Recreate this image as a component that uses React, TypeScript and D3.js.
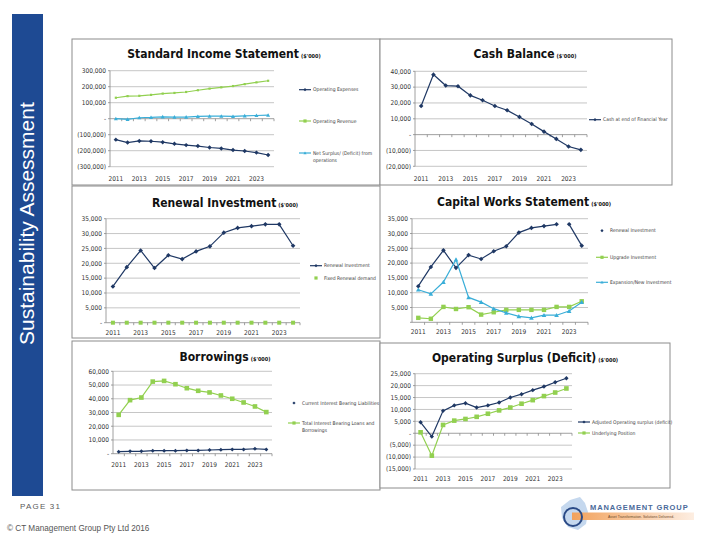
import React from 'react';
import * as d3 from 'd3';

// categories
const years = [2011, 2012, 2013, 2014, 2015, 2016, 2017, 2018, 2019, 2020, 2021, 2022, 2023, 2024];
const yearLabels = [2011, 2013, 2015, 2017, 2019, 2021, 2023];

// Standard Income Statement ($'000)
const incomeTicks = [-300000, -200000, -100000, 0, 100000, 200000, 300000];
const operatingExpenses = [-131000, -149000, -139000, -141000, -147000, -157000, -165000, -171000, -180000, -186000, -196000, -202000, -212000, -227000];
const operatingRevenue = [131000, 141000, 143000, 149000, 157000, 161000, 167000, 178000, 188000, 196000, 204000, 216000, 227000, 237000];
const netSurplus = [0, -4000, 6000, 8000, 12000, 10000, 10000, 14000, 16000, 16000, 14000, 18000, 20000, 22000];

// Cash Balance
const cashTicks = [-20000, -10000, 0, 10000, 20000, 30000, 40000];
const cashBalance = [18100, 37900, 31000, 30600, 24800, 21700, 18100, 15400, 11200, 6700, 1900, -2700, -7500, -9600];

// Renewal Investment
const renewalTicks = [0, 5000, 10000, 15000, 20000, 25000, 30000, 35000];
const renewalInvestment = [12200, 18700, 24300, 18400, 22700, 21400, 24000, 25700, 30300, 31900, 32500, 33100, 33100, 25900];
const fixedRenewalDemand = [0, 0, 0, 0, 0, 0, 0, 0, 0, 0, 0, 0, 0, 0];

// Capital Works Statement
const upgradeInvestment = [1500, 1200, 5200, 4500, 5100, 2600, 3400, 4200, 4200, 4200, 4200, 5200, 5200, 7100];
const expansionInvestment = [11000, 9600, 13600, 21200, 8400, 6800, 4600, 3200, 2000, 1500, 2400, 2400, 3800, 6800];

// Borrowings
const borrowTicks = [0, 10000, 20000, 30000, 40000, 50000, 60000];
const currentLiabilities = [1500, 1700, 1700, 2200, 2200, 2200, 2400, 2400, 2700, 2900, 3100, 3100, 3600, 3100];
const totalBorrowings = [28300, 39000, 40900, 52500, 53000, 50600, 47700, 45800, 44600, 42400, 40000, 37300, 34400, 30300];

// Operating Surplus (Deficit)
const surplusTicks = [-15000, -10000, -5000, 0, 5000, 10000, 15000, 20000, 25000];
const adjustedSurplus = [4600, -1400, 9400, 11700, 12600, 10800, 11700, 12900, 15000, 16400, 18100, 19600, 21400, 23100];
const underlyingPosition = [400, -9400, 3500, 5300, 6000, 6900, 8200, 9600, 10800, 12400, 13900, 15600, 17100, 18800];

const NAVY = '#1f3864';
const GREEN = '#92d050';
const CYAN = '#3aaed8';
const FONT = "'Liberation Sans Narrow', 'DejaVu Sans Condensed', 'Roboto', sans-serif";

type Marker = 'diamond' | 'square' | 'triangle';

interface Series {
  values: number[];
  color: string;
  marker: Marker;
  size: number;
  line: boolean;
  gapAfter?: number;
}

interface LegendItem {
  text: string[];
  color: string;
  marker: Marker;
  line: boolean;
  y: number;
}

interface Spec {
  frame?: [number, number, number, number];
  title: string;
  titleX: number;
  titleY: number;
  left: number;
  right: number;
  top: number;
  bottom: number;
  ticks: number[];
  labelY: number;
  hideZero?: boolean;
  series: Series[];
  legendX: number;
  legend: LegendItem[];
}

const fmt = (v: number) => (v === 0 ? '-' : v < 0 ? `(${d3.format(',')(-v)})` : d3.format(',')(v));

const markerShape = (m: Marker, x: number, y: number, s: number, color: string, key?: string) => {
  if (m === 'diamond')
    return <path key={key} d={`M${x},${y - s}L${x + s},${y}L${x},${y + s}L${x - s},${y}Z`} fill={color} />;
  if (m === 'square')
    return <rect key={key} x={x - s} y={y - s} width={s * 2} height={s * 2} fill={color} />;
  return <path key={key} d={`M${x},${y - s}L${x + s},${y + s * 0.8}L${x - s},${y + s * 0.8}Z`} fill={color} />;
};

const Chart = ({ spec }: { spec: Spec }) => {
  const x = d3.scaleBand<number>().domain(years).range([spec.left, spec.right]).padding(0);
  const y = d3.scaleLinear().domain([spec.ticks[0], spec.ticks[spec.ticks.length - 1]]).range([spec.bottom, spec.top]);
  const cx = (i: number) => (x(years[i]) ?? 0) + x.bandwidth() / 2;
  const axisY = spec.ticks[0] < 0 ? y(0) : spec.bottom;
  const line = d3.line<[number, number]>().x(d => cx(d[0])).y(d => y(d[1]));

  return (
    <g fontFamily={FONT}>
      {spec.frame && (
        <rect x={spec.frame[0]} y={spec.frame[1]} width={spec.frame[2]} height={spec.frame[3]} fill="white" stroke="#8c8c8c" strokeWidth={1} />
      )}
      <text x={spec.titleX} y={spec.titleY} textAnchor="middle" fill="#111">
        <tspan fontSize={12} fontWeight="bold">{spec.title}</tspan>
        <tspan fontSize={5.5} fontWeight="bold" dx={2}>($'000)</tspan>
      </text>
      {spec.ticks.map(t => (
        <g key={t}>
          {t !== 0 && <line x1={spec.left} x2={spec.right} y1={y(t)} y2={y(t)} stroke="#b8b8b8" strokeWidth={0.8} />}
          <line x1={spec.left - 2} x2={spec.left} y1={y(t)} y2={y(t)} stroke="#888" strokeWidth={0.8} />
          {!(spec.hideZero && t === 0) && (
            <text x={spec.left - 4} y={y(t)} dy="0.35em" textAnchor="end" fontSize={6.5} fill="#333">{fmt(t)}</text>
          )}
        </g>
      ))}
      <line x1={spec.left} x2={spec.left} y1={spec.top} y2={spec.bottom} stroke="#888" strokeWidth={0.8} />
      <line x1={spec.left} x2={spec.right} y1={axisY} y2={axisY} stroke="#888" strokeWidth={0.8} />
      {years.map(yr => (
        <line key={yr} x1={x(yr)! + x.bandwidth()} x2={x(yr)! + x.bandwidth()} y1={axisY} y2={axisY + 2.5} stroke="#888" strokeWidth={0.8} />
      ))}
      {yearLabels.map(yr => (
        <text key={yr} x={x(yr)! + x.bandwidth() / 2} y={spec.labelY} textAnchor="middle" fontSize={6.5} fill="#333">{yr}</text>
      ))}
      {spec.series.map((s, si) => {
        const pts = s.values.map((v, i) => [i, v] as [number, number]);
        const parts = s.gapAfter !== undefined ? [pts.slice(0, s.gapAfter + 1), pts.slice(s.gapAfter + 1)] : [pts];
        return (
          <g key={si}>
            {s.line && parts.map((p, pi) => (
              <path key={pi} d={line(p) ?? ''} fill="none" stroke={s.color} strokeWidth={1.2} />
            ))}
            {pts.map(([i, v]) => markerShape(s.marker, cx(i), y(v), s.size, s.color, `${si}-${i}`))}
          </g>
        );
      })}
      {spec.legend.map((l, li) => {
        const mx = spec.legendX + 6;
        return (
          <g key={li}>
            {l.line && <line x1={spec.legendX} x2={spec.legendX + 12} y1={l.y} y2={l.y} stroke={l.color} strokeWidth={1.2} />}
            {markerShape(l.marker, mx, l.y, 1.6, l.color)}
            {l.text.map((t, ti) => (
              <text key={ti} x={spec.legendX + 14} y={l.y + ti * 7} dy="0.35em" fontSize={5} fill="#404040">{t}</text>
            ))}
          </g>
        );
      })}
    </g>
  );
};

const specs: Spec[] = [
  {
    frame: [72, 39, 308, 146],
    title: 'Standard Income Statement', titleX: 224, titleY: 58,
    left: 110, right: 274, top: 70.7, bottom: 166.7, ticks: incomeTicks, labelY: 180.5,
    series: [
      { values: operatingExpenses, color: NAVY, marker: 'diamond', size: 2.2, line: true },
      { values: operatingRevenue, color: GREEN, marker: 'square', size: 1.1, line: true },
      { values: netSurplus, color: CYAN, marker: 'triangle', size: 2, line: true },
    ],
    legendX: 299,
    legend: [
      { text: ['Operating Expenses'], color: NAVY, marker: 'diamond', line: true, y: 89.7 },
      { text: ['Operating Revenue'], color: GREEN, marker: 'square', line: true, y: 121 },
      { text: ['Net Surplus/ (Deficit) from', 'operations'], color: CYAN, marker: 'triangle', line: true, y: 153 },
    ],
  },
  {
    frame: [380, 39, 292, 146],
    title: 'Cash Balance', titleX: 525, titleY: 58,
    left: 415, right: 587, top: 71.3, bottom: 166.3, ticks: cashTicks, labelY: 180.5,
    series: [{ values: cashBalance, color: NAVY, marker: 'diamond', size: 2.3, line: true }],
    legendX: 589,
    legend: [{ text: ['Cash at end of Financial Year'], color: NAVY, marker: 'diamond', line: true, y: 119.7 }],
  },
  {
    frame: [72, 186, 308, 152],
    title: 'Renewal Investment', titleX: 225, titleY: 207,
    left: 106, right: 300, top: 218.7, bottom: 322.7, ticks: renewalTicks, labelY: 334.5,
    series: [
      { values: renewalInvestment, color: NAVY, marker: 'diamond', size: 2.3, line: true },
      { values: fixedRenewalDemand, color: GREEN, marker: 'square', size: 2, line: false },
    ],
    legendX: 310,
    legend: [
      { text: ['Renewal Investment'], color: NAVY, marker: 'diamond', line: true, y: 265.7 },
      { text: ['Fixed Renewal demand'], color: GREEN, marker: 'square', line: false, y: 278 },
    ],
  },
  {
    title: 'Capital Works Statement', titleX: 524, titleY: 206.3,
    left: 412, right: 588, top: 218.7, bottom: 322.3, ticks: renewalTicks, labelY: 333.5, hideZero: true,
    series: [
      { values: renewalInvestment, color: NAVY, marker: 'diamond', size: 2.3, line: true, gapAfter: 11 },
      { values: upgradeInvestment, color: GREEN, marker: 'square', size: 2.2, line: true },
      { values: expansionInvestment, color: CYAN, marker: 'triangle', size: 2.3, line: true },
    ],
    legendX: 596,
    legend: [
      { text: ['Renewal Investment'], color: NAVY, marker: 'diamond', line: false, y: 230.7 },
      { text: ['Upgrade Investment'], color: GREEN, marker: 'square', line: true, y: 257.3 },
      { text: ['Expansion/New Investment'], color: CYAN, marker: 'triangle', line: true, y: 282.3 },
    ],
  },
  {
    frame: [72, 341, 308, 149],
    title: 'Borrowings', titleX: 225, titleY: 360.7,
    left: 113, right: 272, top: 371.3, bottom: 453.7, ticks: borrowTicks, labelY: 467,
    series: [
      { values: currentLiabilities, color: NAVY, marker: 'diamond', size: 2, line: true },
      { values: totalBorrowings, color: GREEN, marker: 'square', size: 2.3, line: true },
    ],
    legendX: 288,
    legend: [
      { text: ['Current Interest Bearing Liabilities'], color: NAVY, marker: 'diamond', line: false, y: 403 },
      { text: ['Total Interest Bearing Loans and', 'Borrowings'], color: GREEN, marker: 'square', line: true, y: 423 },
    ],
  },
  {
    frame: [380, 343, 290, 145],
    title: 'Operating Surplus (Deficit)', titleX: 525, titleY: 362,
    left: 415, right: 572, top: 373.7, bottom: 469, ticks: surplusTicks, labelY: 481,
    series: [
      { values: adjustedSurplus, color: NAVY, marker: 'diamond', size: 2.2, line: true },
      { values: underlyingPosition, color: GREEN, marker: 'square', size: 2.3, line: true },
    ],
    legendX: 578,
    legend: [
      { text: ['Adjusted Operating surplus (deficit)'], color: NAVY, marker: 'diamond', line: true, y: 422 },
      { text: ['Underlying Position'], color: GREEN, marker: 'square', line: true, y: 433 },
    ],
  },
];

const App = () => (
  <svg width={720} height={540} style={{ position: 'absolute', left: 0, top: 0, background: 'white' }}>
    <rect x={12} y={14} width={31} height={482} fill="#1e4a93" />
    <text transform="translate(34,345) rotate(-90)" fontFamily="'Liberation Sans', Arial, sans-serif" fontSize={21} fill="white">
      Sustainability Assessment
    </text>
    {specs.map((s, i) => <Chart key={i} spec={s} />)}
    <text x={20} y={509} fontFamily="'Liberation Sans', Arial, sans-serif" fontSize={8} letterSpacing={1.2} fill="#595959">PAGE 31</text>
    <text x={7} y={531} fontFamily="'Liberation Sans', Arial, sans-serif" fontSize={8.2} fill="#555">© CT Management Group Pty Ltd 2016</text>
    <defs>
      <linearGradient id="bar" x1="0" x2="1" y1="0" y2="0">
        <stop offset="0" stopColor="#f2a25c" />
        <stop offset="1" stopColor="#fdeee2" />
      </linearGradient>
    </defs>
    <path d="M561,507 L570,500 L580,497 L585,503 L588,512 L586,524 L578,530 L568,527 L562,518 Z" fill="#c5d8ee" />
    <rect x={572} y={512.5} width={122} height={7.5} fill="url(#bar)" />
    <circle cx={573} cy={517} r={9} fill="none" stroke="#2a4a86" strokeWidth={2} />
    <text x={590} y={509.5} fontFamily="'Liberation Sans', Arial, sans-serif" fontSize={7.5} fontWeight="bold" letterSpacing={0.9} fill="#4a6a9a">MANAGEMENT GROUP</text>
    <text x={608} y={518} fontFamily="'Liberation Sans', Arial, sans-serif" fontSize={3.5} fill="#6b4a2a">Asset Transformation. Solutions Delivered.</text>
  </svg>
);

export default App;
